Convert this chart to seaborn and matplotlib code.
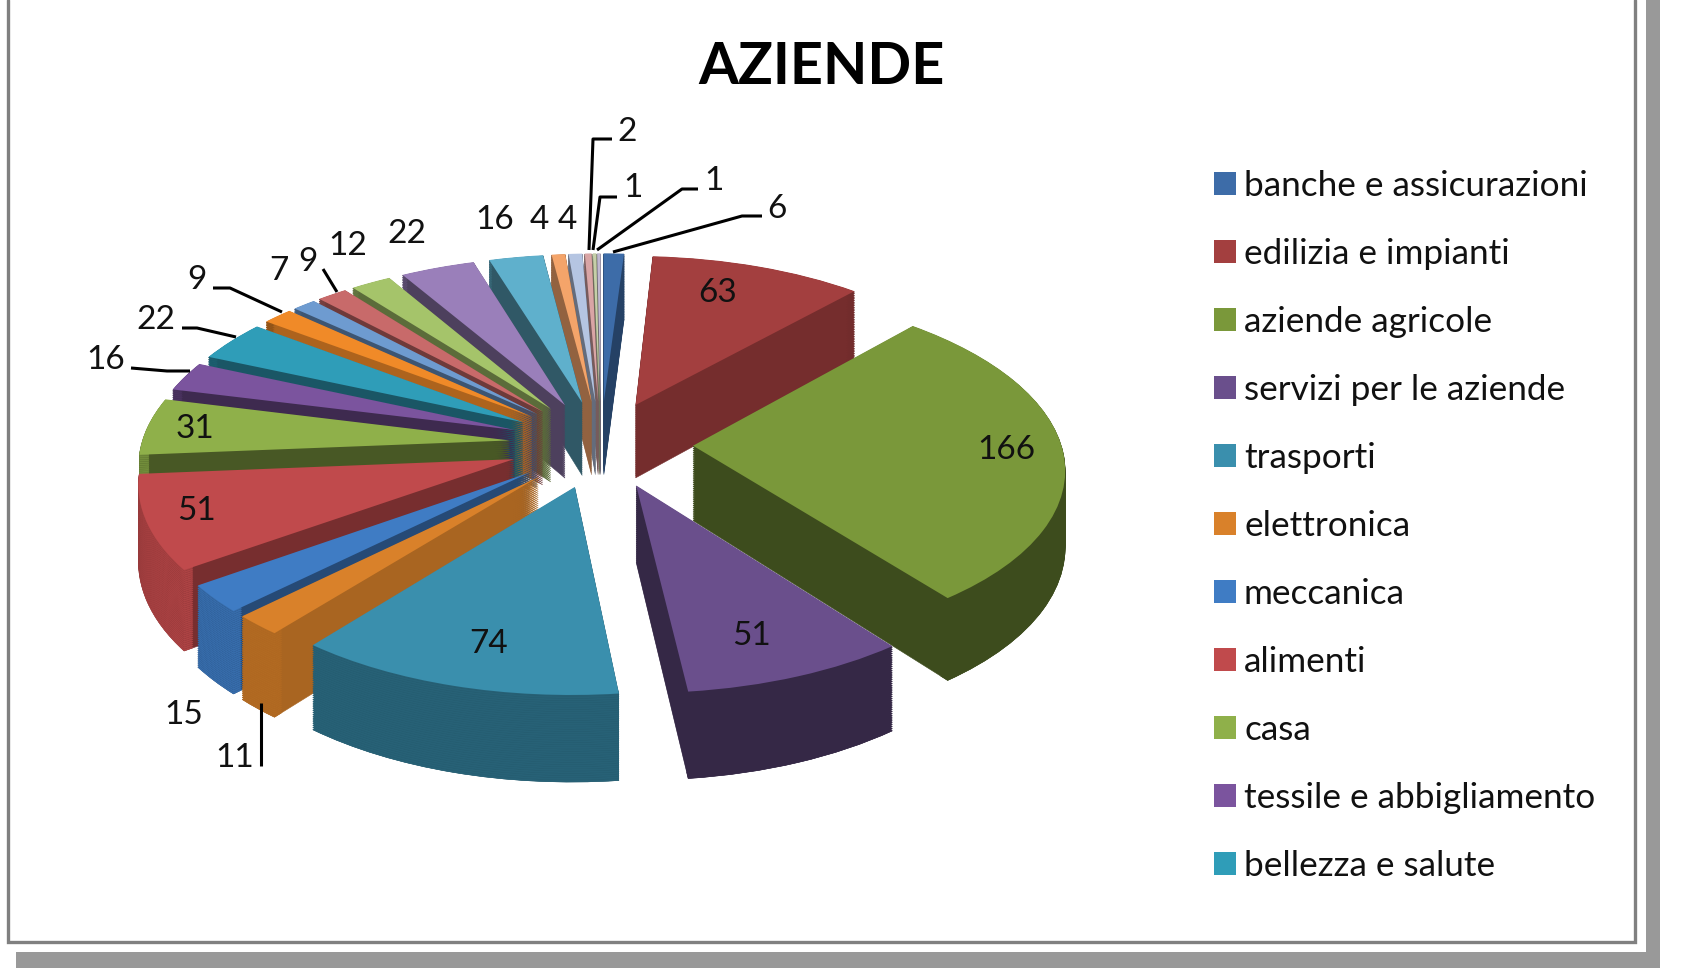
#!/usr/bin/env python3
"""Grafico a torta 3D esplosa "AZIENDE" (pie di matplotlib con tilt prospettico)."""
import numpy as np
import matplotlib
matplotlib.use('Agg')
import matplotlib.pyplot as plt
import matplotlib.transforms as mtransforms
import seaborn as sns

# dati
title = 'AZIENDE'
legend_labels = ['banche e assicurazioni', 'edilizia e impianti', 'aziende agricole',
                 'servizi per le aziende', 'trasporti', 'elettronica', 'meccanica',
                 'alimenti', 'casa', 'tessile e abbigliamento', 'bellezza e salute']
values = [6, 63, 166, 51, 74, 11, 15, 51, 31, 16, 22, 9, 7, 9, 12, 22, 16, 4, 4, 2, 1, 1]

# stile
top_colors = ['#3D6CA8', '#A33F3F', '#7A983A', '#6A4F8C', '#3A8FAD', '#D9812A', '#3F7CC4',
              '#C04A4C', '#8FB04A', '#7B549E', '#2F9DB8', '#F08A28', '#6E9BD0', '#C86A6A',
              '#A5C46A', '#9A7FBA', '#5FB0CC', '#F4A46A', '#B5C5E2', '#D9A5A5', '#C6CFA8',
              '#C0B8D0']
outer_shade = [.6, .7, .5, .5, .68, .82, .88, .9, .8, .6, .6, .6, .6, .6, .6, .6, .6, .6, .6, .6, .6, .6]
inner_shade = [.6, .72, .5, .5, .6, .78, .6, .62, .5, .5, .55, .72, .55, .55, .55, .5, .5, .6, .55, .55, .55, .55]

# posizioni in pixel dell'immagine: etichette e linee guida
label_pos = [(777, 209), (718, 293), (1006, 450), (752, 636), (489, 644), (235, 758),
             (184, 715), (197, 511), (195, 429), (106, 360), (156, 320), (197, 280),
             (279, 271), (308, 262), (348, 246), (407, 234), (495, 220), (539, 220),
             (567, 220), (627, 132), (633, 188), (714, 181)]
leaders = [[(613, 252), (742, 216), (762, 216)],
           [(597, 250), (682, 189), (698, 189)],
           [(593, 250), (600, 197), (617, 197)],
           [(589, 250), (593, 139), (612, 139)],
           [(337, 292), (323, 269)],
           [(282, 312), (230, 288), (213, 288)],
           [(236, 337), (197, 328), (182, 328)],
           [(190, 371), (167, 371), (131, 368)],
           [(261, 703), (261, 766)]]

W, H = 1696, 968
CX, CY = 601, 444    # centro torta
RX, RY = 368, 174    # semiassi
TILT = 0.113
DEPTH = 0.43
LAYERS = 40
EXPLODE = 0.25
FONT = ['Lato', 'DejaVu Sans']


class Tilt(mtransforms.Transform):
    """Prospettiva semplice: il fondo si stringe, z abbassa lo strato."""
    input_dims = output_dims = 2

    def __init__(self, z=0.0):
        super().__init__()
        self.z = z

    def transform_non_affine(self, xy):
        xy = np.asarray(xy)
        s = 1.0 / (1.0 + TILT * xy[:, 1])
        return np.column_stack([xy[:, 0] * s, (xy[:, 1] - self.z) * s])


def shade(color, f):
    r, g, b = matplotlib.colors.to_rgb(color)
    return (r * f, g * f, b * f)


sns.set_theme(style='white')
plt.rcParams['font.family'] = FONT

fig = plt.figure(figsize=(W / 100, H / 100), dpi=100, facecolor='white')
ax = fig.add_axes([0, 0, 1, 1])
explode = [EXPLODE] * len(values)


def draw_pie(colors, z, **wedgeprops):
    wedges, _ = ax.pie(values, explode=explode, colors=colors, startangle=90,
                       counterclock=False, wedgeprops=wedgeprops)
    for w in wedges:
        w.set_transform(Tilt(z) + ax.transData)
        w.set_clip_on(False)
        w.set_edgecolor(w.get_facecolor())
    return wedges


# fianchi dal basso verso l'alto, poi la faccia superiore
inner_colors = [shade(c, f) for c, f in zip(top_colors, inner_shade)]
outer_colors = [shade(c, f) for c, f in zip(top_colors, outer_shade)]
for z in np.linspace(DEPTH, 0.005, LAYERS):
    draw_pie(inner_colors, z, linewidth=0.4)
    draw_pie(outer_colors, z, width=0.025, linewidth=0.4)
top_wedges = draw_pie(top_colors, 0, linewidth=0)

ax.set_aspect('auto')
ax.set_xlim(-CX / RX, (W - CX) / RX)
ax.set_ylim((CY - H) / RY, CY / RY)
ax.axis('off')

# overlay in pixel per cornice, testi e linee guida
px = fig.add_axes([0, 0, 1, 1], facecolor='none')
px.set_xlim(0, W)
px.set_ylim(H, 0)
px.axis('off')

px.plot([8, 8, 1635, 1635], [0, 942, 942, 0], color='#808080', lw=2.4, solid_joinstyle='miter')
px.fill_between([1646, 1660], 0, 968, color='#999999', lw=0)
px.fill_between([16, 1660], 952, 968, color='#999999', lw=0)

px.text(821, 67, title, ha='center', va='center', fontsize=41.5, fontweight='bold', color='black')

for val, (x, y) in zip(values, label_pos):
    px.text(x, y, str(val), ha='center', va='center', fontsize=24, color='#111111')
for pts in leaders:
    xs, ys = zip(*pts)
    px.plot(xs, ys, color='black', lw=2.2, solid_capstyle='butt')

fs = 25.3
font_px = fs / 0.72
fig.legend(top_wedges[:11], legend_labels, loc='upper left', frameon=False,
           bbox_to_anchor=(1214 / W, 1 - 170 / H), borderaxespad=0, borderpad=0,
           prop={'family': FONT, 'size': fs}, labelcolor='#111111',
           handlelength=22 / font_px, handleheight=22 / font_px,
           handletextpad=8 / font_px, labelspacing=1.025)

fig.savefig('out.png', dpi=100, facecolor='white')
